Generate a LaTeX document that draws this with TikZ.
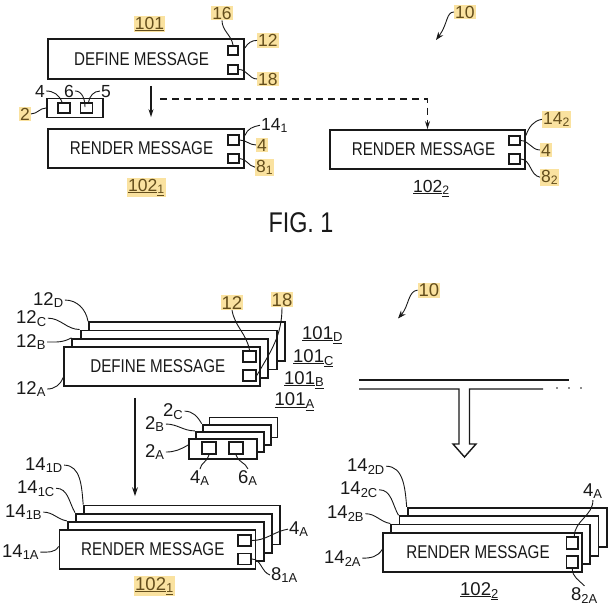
\documentclass[tikz,border=0pt]{standalone}
\usepackage{fontspec}
\setmainfont{Liberation Sans}
\newfontfamily\msgfont{Liberation Sans}[FakeStretch=0.82]
\usetikzlibrary{arrows.meta, positioning}
\definecolor{hlyellow}{RGB}{250,226,160}
\definecolor{hlbrown}{RGB}{100,78,28}
\definecolor{inkblack}{RGB}{25,25,25}

\begin{document}
\begin{tikzpicture}[x=1pt, y=-1pt, inkblack,
  msgbox/.style={draw=inkblack, line width=1.8pt, fill=white, inner sep=0pt,
    font=\msgfont\fontsize{18.5}{20}\selectfont},
  port/.style 2 args={draw=inkblack, line width=1.6pt, fill=white, inner sep=0pt,
    minimum width=#1pt, minimum height=#2pt},
  refno/.style={inner sep=1pt, font=\fontsize{17.5}{20}\selectfont},
  refnobig/.style={inner sep=1pt, font=\fontsize{18.5}{21}\selectfont},
  marked/.style={fill=hlyellow, text=hlbrown},
  lead/.style={line width=0.9pt},
  flow/.style={line width=1.1pt, -{Stealth[length=8pt, width=5pt]}}]
  \useasboundingbox (0,0) rectangle (608,616);

  % FIG. 1
  \node[msgbox, minimum width=196pt, minimum height=40pt] (define) at (146,59) {DEFINE MESSAGE\hspace*{9pt}};
  \node[port={10.5}{9.5}] (define16) at (233,50.5) {};
  \node[port={10.5}{9.5}] (define18) at (233,69.5) {};
  \node[msgbox, minimum width=56pt, minimum height=19pt] (token) at (75,108) {};
  \node[port={12}{10}] (token4) at (64,108) {};
  \node[port={12}{10}] (token6) at (86.5,108) {};
  \node[msgbox, minimum width=196pt, minimum height=39pt] (render1) at (146,148.5) {RENDER MESSAGE\hspace*{9pt}};
  \node[port={10.5}{9.5}] (render1p4) at (233.5,140) {};
  \node[port={10.5}{9.5}] (render1p8) at (233.5,158.5) {};
  \node[msgbox, minimum width=195pt, minimum height=39pt] (render2) at (427.5,149.5) {RENDER MESSAGE\hspace*{8pt}};
  \node[port={10.5}{9.5}] (render2p4) at (514.5,140.5) {};
  \node[port={10.5}{9.5}] (render2p8) at (514.5,159) {};

  \node[refno, marked, anchor=base] (n101) at (149.5,29) {\underline{101}};
  \node[refno, marked, anchor=base] (n16) at (222,19) {16};
  \node[refno, marked, anchor=base west] (n12) at (257,46.5) {12};
  \node[refno, marked, anchor=base west] (n18) at (257,85) {18};
  \node[refno, anchor=base] (n4) at (40,97) {4};
  \node[refno, anchor=base] (n6) at (69,97) {6};
  \node[refno, anchor=base] (n5) at (106,97) {5};
  \node[refno, marked, anchor=base] (n2) at (25,120) {2};
  \node[refno, anchor=base west] (n14a) at (260,130) {14\textsubscript{1}};
  \node[refno, marked, anchor=base] (n4a) at (262,151) {4};
  \node[refno, marked, anchor=base west] (n8a) at (255,172) {8\textsubscript{1}};
  \node[refno, marked, anchor=base west] (n102a) at (127,191) {\underline{102}\textsubscript{\underline{1}}};
  \node[refno, marked, anchor=base west] (n14b) at (542,124) {14\textsubscript{2}};
  \node[refno, marked, anchor=base] (n4b) at (546,156) {4};
  \node[refno, marked, anchor=base west] (n8b) at (540,182) {8\textsubscript{2}};
  \node[refno, anchor=base west] (n102b) at (412,192) {\underline{102}\textsubscript{\underline{2}}};
  \node[refno, marked, anchor=base west] (n10) at (454,18) {10};
  \node[font=\msgfont\fontsize{28.5}{30}\selectfont, anchor=base] (fig1) at (301,232.5) {FIG. 1};

  \draw[lead] (n16.south) to[out=-90, in=100] (define16.north);
  \draw[lead] (n12.west) to[out=180, in=60] ([yshift=11pt]define.east);
  \draw[lead] (define18.east) to[out=0, in=180] (n18.west);
  \draw[lead] (n4.east) to[out=0, in=110] ([xshift=-2pt]token4.north);
  \draw[lead] (n6.east) to[out=0, in=90] ([xshift=-1.5pt, yshift=-5pt]token6.north);
  \draw[lead] (n5.west) to[out=180, in=80] ([xshift=2pt]token6.north);
  \draw[lead] (n2.east) to[out=0, in=180] (token.west);
  \draw[lead] ([yshift=13pt]render1.east) to[out=70, in=190] (n14a.west);
  \draw[lead] (render1p4.east) to[out=0, in=180] (n4a.west);
  \draw[lead] (render1p8.east) to[out=0, in=170] (n8a.west);
  \draw[lead] ([yshift=14pt]render2.east) to[out=70, in=190] (n14b.west);
  \draw[lead] (render2p4.east) to[out=0, in=180] (n4b.west);
  \draw[lead] (render2p8.east) to[out=0, in=170] (n8b.west);

  \draw[flow] ([xshift=5pt, yshift=-6pt]define.south) -- ([xshift=5pt, yshift=11pt]render1.north);
  \coordinate (branch) at (160,99);
  \draw[flow, dash pattern=on 7pt off 5pt] (branch) -| (render2.north);
  \coordinate (tip10a) at (436,40);
  \draw[lead, -{Stealth[length=8pt, width=6pt]}] (n10.west) .. controls (446,12) and (448,24) .. (tip10a);

  % FIG. 2
  \foreach \s/\k in {D/3,C/2,B/1}
    \node[msgbox, minimum width=196pt, minimum height=39pt] (def\s) at ({162+8.3*\k},{366.5-8.3*\k}) {};
  \node[msgbox, minimum width=196pt, minimum height=39pt] (defA) at (162,366.5) {DEFINE MESSAGE\hspace*{8.5pt}};
  \node[port={13}{11}] (defA12) at (249.5,356.5) {};
  \node[port={13}{11}] (defA18) at (249.5,375.5) {};

  \foreach \s/\k in {D/3,C/2,B/1}
    \node[msgbox, minimum width=68pt, minimum height=20pt] (tok\s) at ({223+6.8*\k},{449-7.2*\k}) {};
  \node[msgbox, minimum width=68pt, minimum height=20pt] (tokA) at (223,449) {};
  \node[port={14}{12}] (tokA4) at (209,448) {};
  \node[port={14}{12}] (tokA6) at (236,448) {};

  \foreach \s/\k in {D/3,C/2,B/1}
    \node[msgbox, minimum width=196pt, minimum height=39pt] (rendOne\s) at ({157.5+8.2*\k},{549.5-8.2*\k}) {};
  \node[msgbox, minimum width=196pt, minimum height=39pt] (rendOneA) at (157.5,549.5) {RENDER MESSAGE\hspace*{9.5pt}};
  \node[port={13}{11}] (rendOneA4) at (244.5,540.5) {};
  \node[port={13}{11}] (rendOneA8) at (244.5,559) {};

  \foreach \s/\k in {D/3,C/2,B/1}
    \node[msgbox, minimum width=199pt, minimum height=39.5pt] (rendTwo\s) at ({482.5+8.2*\k},{552.5-8.3*\k}) {};
  \node[msgbox, minimum width=199pt, minimum height=39.5pt] (rendTwoA) at (482.5,552.5) {RENDER MESSAGE\hspace*{9pt}};
  \node[port={11.5}{11.5}] (rendTwoA4) at (572.3,543) {};
  \node[port={11.5}{11.5}] (rendTwoA8) at (572.3,562) {};

  \node[refnobig, anchor=base west] (m12D) at (32,305) {12\textsubscript{D}};
  \node[refnobig, anchor=base west] (m12C) at (15,323) {12\textsubscript{C}};
  \node[refnobig, anchor=base west] (m12B) at (15,347) {12\textsubscript{B}};
  \node[refnobig, anchor=base west] (m12A) at (15,394) {12\textsubscript{A}};
  \node[refnobig, marked, anchor=base] (m12) at (232,309) {12};
  \node[refnobig, marked, anchor=base] (m18) at (282,306) {18};
  \node[refnobig, anchor=base west] (m101D) at (301,339) {\underline{101}\textsubscript{\underline{D}}};
  \node[refnobig, anchor=base west] (m101C) at (292,362) {\underline{101}\textsubscript{\underline{C}}};
  \node[refnobig, anchor=base west] (m101B) at (283,384) {\underline{101}\textsubscript{\underline{B}}};
  \node[refnobig, anchor=base west] (m101A) at (273.5,405.5) {\underline{101}\textsubscript{\underline{A}}};
  \node[refnobig, anchor=base west] (m2C) at (162,416) {2\textsubscript{C}};
  \node[refnobig, anchor=base west] (m2B) at (144,429) {2\textsubscript{B}};
  \node[refnobig, anchor=base west] (m2A) at (144,457) {2\textsubscript{A}};
  \node[refnobig, anchor=base west] (m4A) at (189,483) {4\textsubscript{A}};
  \node[refnobig, anchor=base west] (m6A) at (237,483) {6\textsubscript{A}};
  \node[refnobig, anchor=base west] (m14D) at (24,470) {14\textsubscript{1D}};
  \node[refnobig, anchor=base west] (m14C) at (16,493) {14\textsubscript{1C}};
  \node[refnobig, anchor=base west] (m14B) at (4,517) {14\textsubscript{1B}};
  \node[refnobig, anchor=base west] (m14A) at (1,557) {14\textsubscript{1A}};
  \node[refnobig, anchor=base west] (m4Aone) at (288,534) {4\textsubscript{A}};
  \node[refnobig, anchor=base west] (m8Aone) at (270,580) {8\textsubscript{1A}};
  \node[refnobig, marked, anchor=base west] (m102a) at (134,590) {\underline{102}\textsubscript{\underline{1}}};
  \node[refnobig, marked, anchor=base west] (m10) at (417.5,296.5) {10};
  \node[refnobig, anchor=base west] (m14Dtwo) at (346,471) {14\textsubscript{2D}};
  \node[refnobig, anchor=base west] (m14Ctwo) at (339,494.5) {14\textsubscript{2C}};
  \node[refnobig, anchor=base west] (m14Btwo) at (326,518.5) {14\textsubscript{2B}};
  \node[refnobig, anchor=base west] (m14Atwo) at (323,563) {14\textsubscript{2A}};
  \node[refnobig, anchor=base west] (m4Atwo) at (582,496) {4\textsubscript{A}};
  \node[refnobig, anchor=base west] (m8Atwo) at (570,600) {8\textsubscript{2A}};
  \node[refnobig, anchor=base west] (m102b) at (459,595) {\underline{102}\textsubscript{\underline{2}}};

  \draw[lead] (m12D.east) to[out=0, in=100] (defD.north west);
  \draw[lead] (m12C.east) to[out=0, in=180] (defC.north west);
  \draw[lead] (m12B.east) to[out=0, in=210] (defB.north west);
  \draw[lead] (m12A.east) to[out=0, in=250] ([yshift=-11pt]defA.west);
  \draw[lead] (m12.south) to[out=-80, in=100] (defA12.north);
  \draw[lead] (m18.south) to[out=-90, in=60] (defA18.east);
  \draw[lead] (m2C.east) to[out=0, in=120] (tokC.north west);
  \draw[lead] (m2B.east) to[out=0, in=180] (tokB.north west);
  \draw[lead] (m2A.east) to[out=0, in=210] ([yshift=4pt]tokA.west);
  \draw[lead] (m4A.north) to[out=80, in=-100] (tokA4.south);
  \draw[lead] (tokA6.south) to[out=-80, in=110] (m6A.north);
  \draw[lead] (m14D.east) to[out=0, in=95] (rendOneD.north west);
  \draw[lead] (m14C.east) to[out=0, in=120] (rendOneC.north west);
  \draw[lead] (m14B.east) to[out=0, in=170] (rendOneB.north west);
  \draw[lead] (m14A.east) to[out=0, in=240] ([yshift=3pt]rendOneA.west);
  \draw[lead] (rendOneA4.east) to[out=0, in=190] (m4Aone.west);
  \draw[lead] (rendOneA8.east) to[out=0, in=160] (m8Aone.west);
  \draw[lead] (m14Dtwo.east) to[out=0, in=95] (rendTwoD.north west);
  \draw[lead] (m14Ctwo.east) to[out=0, in=120] (rendTwoC.north west);
  \draw[lead] (m14Btwo.east) to[out=0, in=170] (rendTwoB.north west);
  \draw[lead] (m14Atwo.east) to[out=0, in=240] ([yshift=3pt]rendTwoA.west);
  \draw[lead] (m4Atwo.south) to[out=-90, in=90] ([xshift=2pt]rendTwoA4.north);
  \draw[lead] (rendTwoA8.south) to[out=-90, in=135] (m8Atwo.north);

  \draw[flow, -{Stealth[length=9pt, width=6pt]}] ([xshift=-27pt, yshift=-11pt]defA.south) -- ([xshift=-22.5pt, yshift=33pt]rendOneA.north);
  \coordinate (tip10b) at (398,318.5);
  \draw[lead, -{Stealth[length=8pt, width=6pt]}] (m10.west) .. controls (408,291) and (409,306) .. (tip10b);

  % broadcast to the other renderers
  \draw[line width=1.4pt] (359,380) -- (569,380);
  \draw[line width=1.4pt] (359,389) -- (459,389) -- (459,444) -- (453,444) -- (464.5,457)
    -- (476,444) -- (469.5,444) -- (469.5,389) -- (543,389);
  \foreach \dx in {557,569,581}
    \fill (\dx,388) circle (0.9pt);
\end{tikzpicture}
\end{document}
